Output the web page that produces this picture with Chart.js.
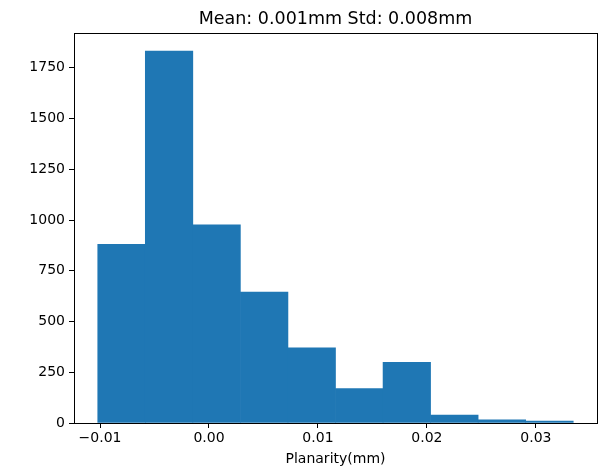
<!DOCTYPE html>
<html>
<head>
<meta charset="utf-8">
<script src="https://cdn.jsdelivr.net/npm/chart.js@4/dist/chart.umd.min.js"></script>
<style>
  html, body { margin: 0; padding: 0; background: #fff; }
  #wrap { width: 610px; height: 468px; }
</style>
</head>
<body>
<div id="wrap"><canvas id="histChart" width="610" height="468"></canvas></div>
<script>
// Histogram of planarity values
const binEdges = [-0.01021, -0.00585, -0.00148, 0.00288, 0.00725, 0.01161, 0.01597, 0.02034, 0.02470, 0.02907, 0.03343]
const counts = [880, 1833, 976, 645, 370, 169, 299, 39, 16, 10]
const xTicks = [-0.01, 0.00, 0.01, 0.02, 0.03]
const yTicks = [0, 250, 500, 750, 1000, 1250, 1500, 1750]

const titleText = 'Mean: 0.001mm Std: 0.008mm'
const xLabel = 'Planarity(mm)'

// bar centres from the edges
const barData = counts.map((c, i) => ({ x: (binEdges[i] + binEdges[i + 1]) / 2, y: c }))

const fontFam = '"DejaVu Sans", sans-serif'

// axes frame + title, matplotlib style
const framePlugin = {
    id: 'frame',
    afterDraw(chart) {
        const { ctx, chartArea: a } = chart
        ctx.save()
        ctx.strokeStyle = '#000'
        ctx.lineWidth = 1
        ctx.strokeRect(Math.round(a.left) + 0.5, Math.round(a.top) + 0.5,
            Math.round(a.right - a.left), Math.round(a.bottom - a.top))
        ctx.fillStyle = '#000'
        ctx.font = '17.5px ' + fontFam
        ctx.textAlign = 'center'
        ctx.textBaseline = 'alphabetic'
        ctx.fillText(titleText, (a.left + a.right) / 2, 24)
        ctx.restore()
    }
}

var ctx = document.getElementById('histChart');
var histChart = new Chart(ctx, {
    type: 'bar',
    data: {
        datasets: [{
            label: 'count',
            data: barData,
            backgroundColor: '#1f77b4',
            borderWidth: 0,
            barPercentage: 1.0,
            categoryPercentage: 1.0
        }]
    },
    options: {
        responsive: false,
        animation: false,
        layout: { padding: { top: 33, right: 13, left: 0, bottom: 0 } },
        plugins: {
            legend: { display: false },
            tooltip: { enabled: false },
            title: { display: false }
        },
        scales: {
            x: {
                type: 'linear',
                offset: false,
                min: -0.01239,
                max: 0.03561,
                afterBuildTicks: (scale) => { scale.ticks = xTicks.map(v => ({ value: v })) },
                afterFit: (scale) => { scale.height = 45 },
                ticks: {
                    color: '#000',
                    font: { family: fontFam, size: 14 },
                    padding: 2,
                    maxRotation: 0,
                    callback: (v) => (v < 0 ? '\u2212' : '') + Math.abs(v).toFixed(2)
                },
                grid: {
                    offset: false,
                    drawOnChartArea: false,
                    drawTicks: true,
                    tickLength: 5,
                    color: '#000'
                },
                border: { display: false },
                title: {
                    display: true,
                    text: xLabel,
                    color: '#000',
                    font: { family: fontFam, size: 14 },
                    padding: { top: 3, bottom: 0 }
                }
            },
            y: {
                min: 0,
                max: 1921.5,
                afterBuildTicks: (scale) => { scale.ticks = yTicks.map(v => ({ value: v })) },
                afterFit: (scale) => { scale.width = 74 },
                ticks: {
                    color: '#000',
                    font: { family: fontFam, size: 14 },
                    padding: 4,
                    callback: (v) => String(v)
                },
                grid: {
                    drawOnChartArea: false,
                    drawTicks: true,
                    tickLength: 5,
                    color: '#000'
                },
                border: { display: false }
            }
        }
    },
    plugins: [framePlugin]
});
</script>
</body>
</html>
